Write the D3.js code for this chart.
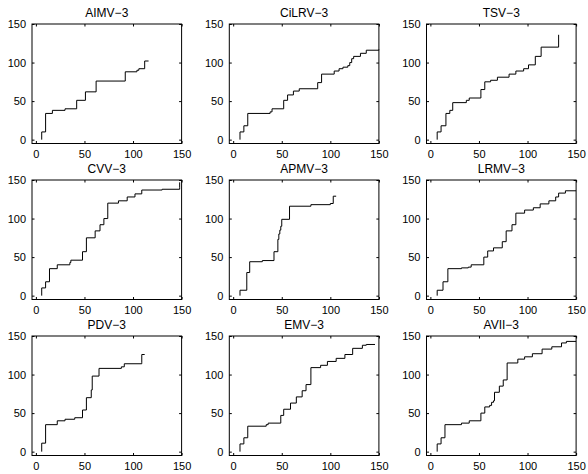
<!DOCTYPE html>
<html>
<head>
<meta charset="utf-8">
<script src="https://cdn.jsdelivr.net/npm/d3@7"></script>
<style>
  body { margin: 0; background: #fff; }
  text { font-family: "Liberation Sans", Arial, Helvetica, sans-serif; }
</style>
</head>
<body>
<div id="vis"></div>
<script>
// panel titles, in subplot order
var titles = ["AIMV\u22123", "CiLRV\u22123", "TSV\u22123",
              "CVV\u22123", "APMV\u22123", "LRMV\u22123",
              "PDV\u22123", "EMV\u22123", "AVII\u22123"];
var tickValues = [0, 50, 100, 150];

// step curves, [x, y] break points
var aimv = [[6,0],[6,10],[10,34],[17,38],[30,40],[42,51],[51,62],[62,76],[92,88],[104,90],[106,92],[112,102],[116,102]];
var cilrv = [[7,0],[7,10],[11,18],[15,34],[38,36],[40,40],[52,51],[56,58],[62,63],[68,66],[87,74],[91,85],[104,89],[109,92],[113,94],[118,96],[120,100],[122,105],[124,108],[131,112],[137,116],[150,117]];
var tsv = [[7,0],[7,10],[11,18],[16,34],[20,38],[23,48],[37,51],[40,54],[52,65],[56,75],[62,77],[69,81],[81,85],[88,89],[96,92],[101,97],[108,108],[114,120],[132,120],[132,136]];
var cvv = [[6,0],[6,10],[10,18],[14,35],[22,40],[35,43],[36,46],[48,57],[52,75],[61,84],[66,92],[70,100],[74,120],[85,123],[94,128],[102,132],[109,137],[130,138],[148,140],[148,147]];
var apmv = [[7,0],[7,7],[14,30],[17,44],[30,45.5],[42,57],[46,73],[47,80],[48,85],[49,90],[50,99],[58,116],[80,118],[100,119.5],[103,129],[106,129]];
var lrmv = [[7,0],[7,7],[13,18],[18,35],[32,36],[39,37],[42,40],[55,50],[59,58],[65,62],[74,70],[78,84],[84,92],[88,107],[97,111],[106,114],[113,119],[122,123],[129,128],[132,133],[139,136],[150,136]];
var pdv = [[6,0],[6,11],[10,35],[22,40],[30,42],[40,44],[48,54],[52,70],[57,80],[58,98],[65,108],[88,110],[91,114],[109,116],[109,126],[112,126]];
var emv = [[7,0],[7,10],[11,18],[15,33],[34,35],[36,37],[49,47],[52,55],[59,63],[65,71],[71,79],[75,87],[80,109],[90,112],[97,117],[106,121],[115,126],[123,134],[133,138],[137,139],[146,139]];
var avii = [[7,0],[7,10],[11,18],[15,35],[32,37],[40,40],[52,50],[56,58],[61,60],[63,64],[65,66],[66,77],[71,85],[75,93],[79,115],[90,120],[97,123],[105,127],[115,133],[125,136],[135,141],[140,143],[150,143]];

var panels = [aimv, cilrv, tsv, cvv, apmv, lrmv, pdv, emv, avii];

var width = 588, height = 474;
var colLeft = [32, 229.3, 426.5];
var rowTop = [24, 180, 336];
var boxW = 149.6, boxH = 119.5;

var svg = d3.select('#vis')
  .append('svg')
  .attr('width', width)
  .attr('height', height);

var x = d3.scaleLinear().domain([-4, 150]).range([0, boxW]);
var y = d3.scaleLinear().domain([-5, 150]).range([boxH, 0]);

var line = d3.line()
  .x(function (d) { return x(d[0]); })
  .y(function (d) { return y(d[1]); })
  .curve(d3.curveStepAfter);

function styleAxis(g) {
  g.select('.domain').remove();
  g.selectAll('.tick line').attr('stroke', '#000');
  g.selectAll('text').attr('fill', '#000').style('font-size', '11px');
}

panels.forEach(function (data, i) {
  var g = svg.append('g')
    .attr('transform', 'translate(' + colLeft[i % 3] + ',' + rowTop[Math.floor(i / 3)] + ')');

  // bottom + left axes with labels, ticks pointing in
  g.append('g')
    .attr('transform', 'translate(0,' + boxH + ')')
    .call(d3.axisBottom(x).tickValues(tickValues).tickSize(-2.5).tickPadding(7))
    .call(styleAxis);
  g.append('g')
    .call(d3.axisLeft(y).tickValues(tickValues).tickSize(-2.5).tickPadding(6))
    .call(styleAxis);

  // top + right ticks only
  g.append('g')
    .call(d3.axisTop(x).tickValues(tickValues).tickSize(-2.5).tickFormat(''))
    .call(styleAxis);
  g.append('g')
    .attr('transform', 'translate(' + boxW + ',0)')
    .call(d3.axisRight(y).tickValues(tickValues).tickSize(-2.5).tickFormat(''))
    .call(styleAxis);

  g.append('rect')
    .attr('width', boxW)
    .attr('height', boxH)
    .attr('fill', 'none')
    .attr('stroke', '#000')
    .attr('stroke-width', 1);

  g.append('path')
    .datum(data)
    .attr('d', line)
    .attr('fill', 'none')
    .attr('stroke', '#000')
    .attr('stroke-width', 1);

  g.append('text')
    .attr('x', boxW / 2)
    .attr('y', -7.5)
    .attr('text-anchor', 'middle')
    .style('font-size', '12px')
    .text(titles[i]);
});
</script>
</body>
</html>
